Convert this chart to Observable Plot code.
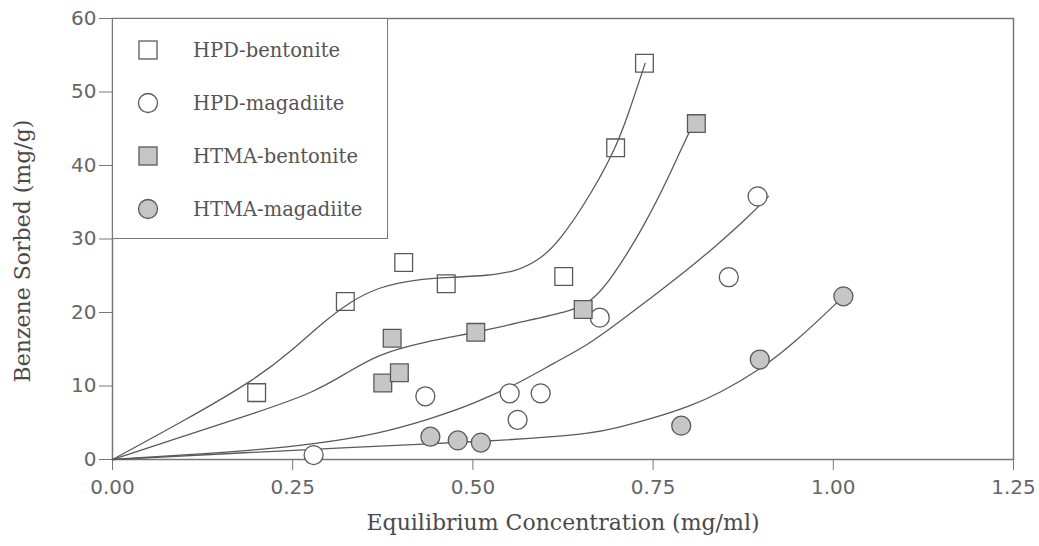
<!DOCTYPE html>
<html>
<head>
<meta charset="utf-8">
<script src="https://cdn.jsdelivr.net/npm/d3@7"></script>
<script src="https://cdn.jsdelivr.net/npm/@observablehq/plot@0.6"></script>
<style>
  html, body { margin: 0; padding: 0; background: #fff; }
  #wrap { position: relative; width: 1039px; height: 546px; }
  #legend {
    position: absolute; left: 112px; top: 18px; width: 276px; height: 221px;
    background: #fff; border: 1.5px solid #777; box-sizing: border-box;
    font-family: "DejaVu Serif", serif; font-size: 19.5px; color: #555;
  }
  .item { position: absolute; left: 0; height: 24px; display: flex; align-items: center; white-space: nowrap; }
  .item svg { margin-left: 24px; }
  .item span { margin-left: 34px; }
</style>
</head>
<body>
<div id="wrap"></div>
<script>
// ---- data ----
const seriesNames = ["HPD-bentonite", "HPD-magadiite", "HTMA-bentonite", "HTMA-magadiite"];

const hpdBentX = [0.20, 0.323, 0.404, 0.463, 0.626, 0.698, 0.738];
const hpdBentY = [9.1, 21.5, 26.8, 23.9, 24.9, 42.4, 53.9];

const hpdMagX = [0.279, 0.434, 0.551, 0.562, 0.594, 0.676, 0.855, 0.895];
const hpdMagY = [0.6, 8.6, 9.0, 5.4, 9.0, 19.3, 24.8, 35.8];

const htmaBentX = [0.375, 0.388, 0.398, 0.504, 0.653, 0.810];
const htmaBentY = [10.4, 16.5, 11.8, 17.3, 20.4, 45.7];

const htmaMagX = [0.441, 0.479, 0.511, 0.789, 0.898, 1.014];
const htmaMagY = [3.1, 2.6, 2.3, 4.6, 13.6, 22.2];

// fitted curves as drawn
const fit1X = [0, 0.10, 0.20, 0.25, 0.29, 0.33, 0.37, 0.42, 0.47, 0.52, 0.56, 0.59, 0.62, 0.667, 0.698, 0.714, 0.739];
const fit1Y = [0, 5.3, 11.0, 14.9, 18.5, 21.5, 23.5, 24.5, 24.8, 25.0, 25.6, 27.0, 29.6, 36.6, 42.4, 46.5, 53.9];

const fit2X = [0, 0.10, 0.20, 0.28, 0.33, 0.37, 0.42, 0.47, 0.51, 0.58, 0.64, 0.665, 0.691, 0.737, 0.774, 0.798, 0.807];
const fit2Y = [0, 3.2, 6.4, 9.1, 12.1, 14.3, 15.7, 16.7, 17.4, 19.0, 20.3, 21.6, 24.4, 31.6, 38.9, 44.2, 45.8];

const fit3X = [0, 0.10, 0.20, 0.28, 0.37, 0.44, 0.50, 0.57, 0.61, 0.66, 0.70, 0.75, 0.80, 0.84, 0.88, 0.91];
const fit3Y = [0, 0.6, 1.3, 2.1, 3.5, 5.5, 7.5, 10.7, 13.0, 15.6, 18.5, 22.2, 26.0, 29.3, 32.8, 35.8];

const fit4X = [0, 0.20, 0.30, 0.43, 0.52, 0.60, 0.66, 0.70, 0.75, 0.80, 0.84, 0.90, 0.95, 1.01];
const fit4Y = [0, 1.0, 1.5, 2.1, 2.5, 3.0, 3.5, 4.3, 5.6, 7.2, 8.9, 12.3, 16.2, 21.8];

const xTicks = [0, 0.25, 0.5, 0.75, 1.0, 1.25];
const yTicks = [0, 10, 20, 30, 40, 50, 60];
const xLabel = "Equilibrium Concentration (mg/ml)";
const yLabel = "Benzene Sorbed (mg/g)";

// ---- build tables ----
const pts = (xs, ys) => xs.map((x, i) => ({x, y: ys[i]}));
const ink = "#5a5a5a";
const grayFill = "#c6c6c6";
const tickFont = "DejaVu Sans ExtraLight, DejaVu Sans, sans-serif";

const chart = Plot.plot({
  width: 1039, height: 546,
  marginLeft: 112, marginRight: 26, marginTop: 18, marginBottom: 87,
  x: {domain: [0, 1.25]},
  y: {domain: [0, 60]},
  style: {fontFamily: tickFont, fontSize: "20px", color: "#555", background: "#fff"},
  marks: [
    Plot.frame({stroke: "#777", strokeWidth: 1.5}),
    Plot.axisX({ticks: xTicks, tickFormat: d => d.toFixed(2), tickSize: 11, tickPadding: 9, label: null, stroke: "#777", fill: "#666", fontFamily: tickFont, fontSize: 20}),
    Plot.axisY({ticks: yTicks, tickSize: 13, tickPadding: 3, label: null, stroke: "#777", fill: "#666", fontFamily: tickFont, fontSize: 20}),
    Plot.text([xLabel], {frameAnchor: "bottom", dy: 70, fontFamily: "DejaVu Serif, serif", fontSize: 22, fill: "#4a4a4a"}),
    Plot.text([yLabel], {frameAnchor: "left", dx: -90, dy: 12, rotate: -90, textAnchor: "middle", fontFamily: "DejaVu Serif, serif", fontSize: 22, fill: "#4a4a4a"}),
    Plot.line(pts(fit1X, fit1Y), {x: "x", y: "y", curve: "basis", stroke: ink, strokeWidth: 1.3}),
    Plot.line(pts(fit2X, fit2Y), {x: "x", y: "y", curve: "basis", stroke: ink, strokeWidth: 1.3}),
    Plot.line(pts(fit3X, fit3Y), {x: "x", y: "y", curve: "basis", stroke: ink, strokeWidth: 1.3}),
    Plot.line(pts(fit4X, fit4Y), {x: "x", y: "y", curve: "basis", stroke: ink, strokeWidth: 1.3}),
    Plot.dot(pts(hpdBentX, hpdBentY), {x: "x", y: "y", symbol: "square", r: 10, fill: "#fff", fillOpacity: 0, stroke: ink, strokeWidth: 1.3}),
    Plot.dot(pts(hpdMagX, hpdMagY), {x: "x", y: "y", symbol: "circle", r: 9.5, fill: "#fff", stroke: ink, strokeWidth: 1.3}),
    Plot.dot(pts(htmaBentX, htmaBentY), {x: "x", y: "y", symbol: "square", r: 10, fill: grayFill, stroke: ink, strokeWidth: 1.3}),
    Plot.dot(pts(htmaMagX, htmaMagY), {x: "x", y: "y", symbol: "circle", r: 9.5, fill: grayFill, stroke: ink, strokeWidth: 1.3})
  ]
});

const wrap = document.getElementById("wrap");
wrap.appendChild(chart);

// legend (HTML overlay)
const legend = document.createElement("div");
legend.id = "legend";
const symbols = [
  `<rect x="2" y="2" width="18" height="18" fill="#fff" stroke="${ink}" stroke-width="1.3"/>`,
  `<circle cx="11" cy="11" r="9.5" fill="#fff" stroke="${ink}" stroke-width="1.3"/>`,
  `<rect x="2" y="2" width="18" height="18" fill="${grayFill}" stroke="${ink}" stroke-width="1.3"/>`,
  `<circle cx="11" cy="11" r="9.5" fill="${grayFill}" stroke="${ink}" stroke-width="1.3"/>`
];
const rowY = [31, 84, 137, 190];
seriesNames.forEach((name, i) => {
  const item = document.createElement("div");
  item.className = "item";
  item.style.top = (rowY[i] - 12) + "px";
  item.innerHTML = `<svg width="22" height="22">${symbols[i]}</svg><span>${name}</span>`;
  legend.appendChild(item);
});
wrap.appendChild(legend);
</script>
</body>
</html>
